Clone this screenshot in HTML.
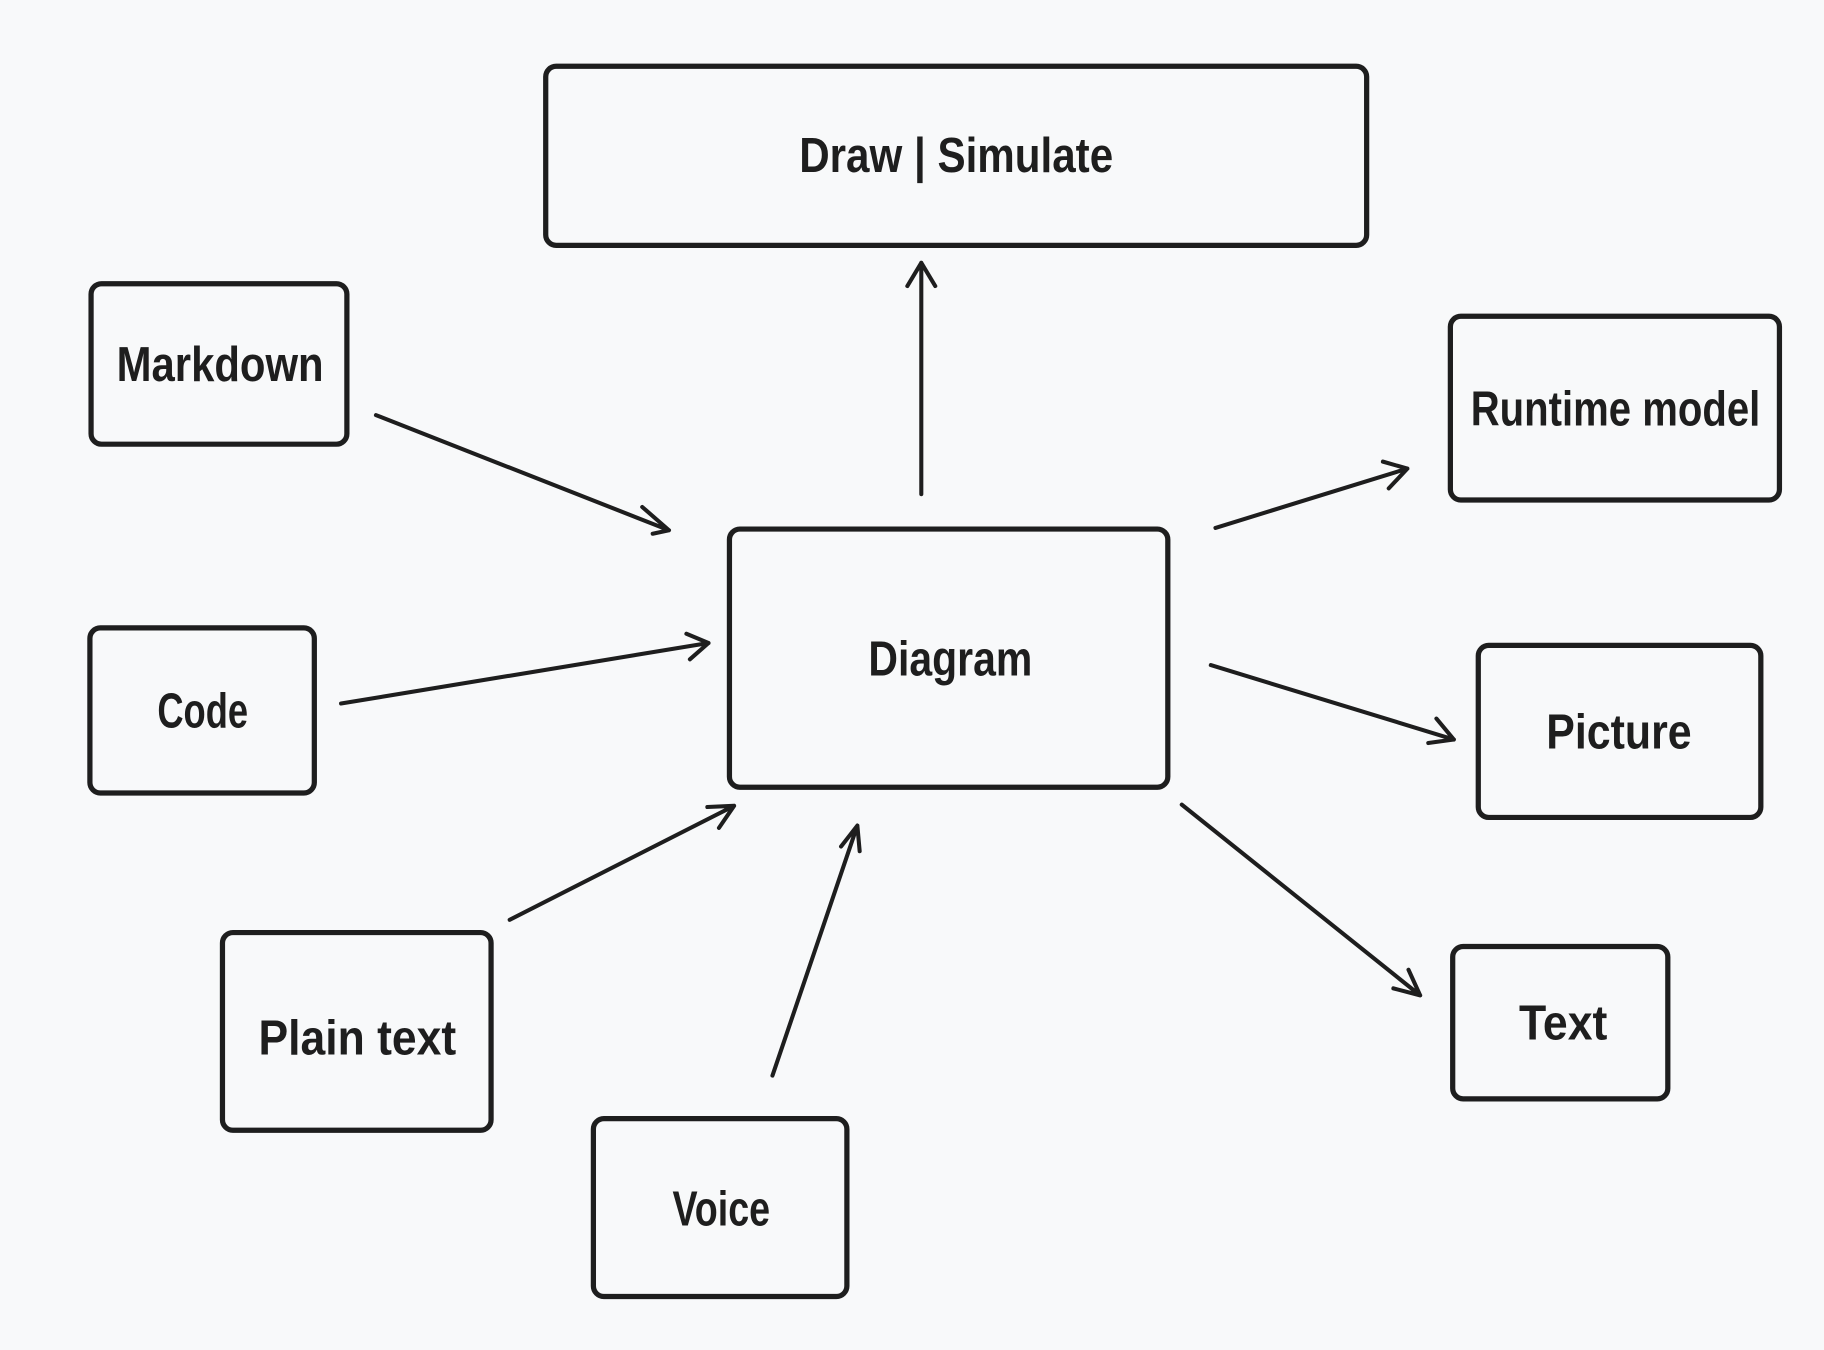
<!DOCTYPE html>
<html><head><meta charset="utf-8"><style>
html,body{margin:0;padding:0;background:#f8f9fa;}
svg{display:block;}
text{font-family:"Liberation Sans",sans-serif;font-weight:bold;font-size:42px;fill:#1e1e1e;text-anchor:middle;dominant-baseline:central;}
</style></head><body>
<svg width="1824" height="1350" viewBox="0 0 1568 1161" xmlns="http://www.w3.org/2000/svg">
<rect width="1568" height="1161" fill="#f8f9fa"/>
<g fill="none" stroke="#1e1e1e" stroke-width="4.5" stroke-linecap="round" stroke-linejoin="round">
<rect x="469" y="57" width="706" height="154" rx="9"/>
<rect x="78" y="244" width="220" height="138" rx="9"/>
<rect x="1247" y="272" width="283" height="158" rx="9"/>
<rect x="627" y="455" width="377" height="222" rx="9"/>
<rect x="77" y="540" width="193" height="142" rx="9"/>
<rect x="1271" y="555" width="243" height="148" rx="9"/>
<rect x="191" y="802" width="231" height="170" rx="9"/>
<rect x="1249" y="814" width="185" height="131" rx="9"/>
<rect x="510" y="962" width="218" height="153" rx="9"/>
<g stroke-width="3.5">
<path d="M792 425 L792 226 M780 246 L792 226 L804 246"/>
<path d="M323 357 L575 456 M552 436 L575 456 L561 459"/>
<path d="M293 605 L609 553 M590 545 L609 553 L593 567"/>
<path d="M438 791 L631 693 M608 694 L631 693 L618 712"/>
<path d="M664 925 L737 710 M723 728 L737 710 L739 732"/>
<path d="M1045 454 L1210 403 M1189 397 L1210 403 L1194 420"/>
<path d="M1041 572 L1250 636 M1235 618 L1250 636 L1228 639"/>
<path d="M1016 692 L1221 856 M1211 834 L1221 856 L1198 850"/>
</g>
</g>
<text x="822" y="134" textLength="270" lengthAdjust="spacingAndGlyphs">Draw | Simulate</text>
<text x="189" y="314" textLength="178" lengthAdjust="spacingAndGlyphs">Markdown</text>
<text x="1389" y="352" textLength="249" lengthAdjust="spacingAndGlyphs">Runtime model</text>
<text x="817" y="567" textLength="141" lengthAdjust="spacingAndGlyphs">Diagram</text>
<text x="174" y="612" textLength="78" lengthAdjust="spacingAndGlyphs">Code</text>
<text x="1392" y="630" textLength="125" lengthAdjust="spacingAndGlyphs">Picture</text>
<text x="307" y="893" textLength="170" lengthAdjust="spacingAndGlyphs">Plain text</text>
<text x="1344" y="880" textLength="76" lengthAdjust="spacingAndGlyphs">Text</text>
<text x="620" y="1040" textLength="84" lengthAdjust="spacingAndGlyphs">Voice</text>
</svg>
</body></html>
